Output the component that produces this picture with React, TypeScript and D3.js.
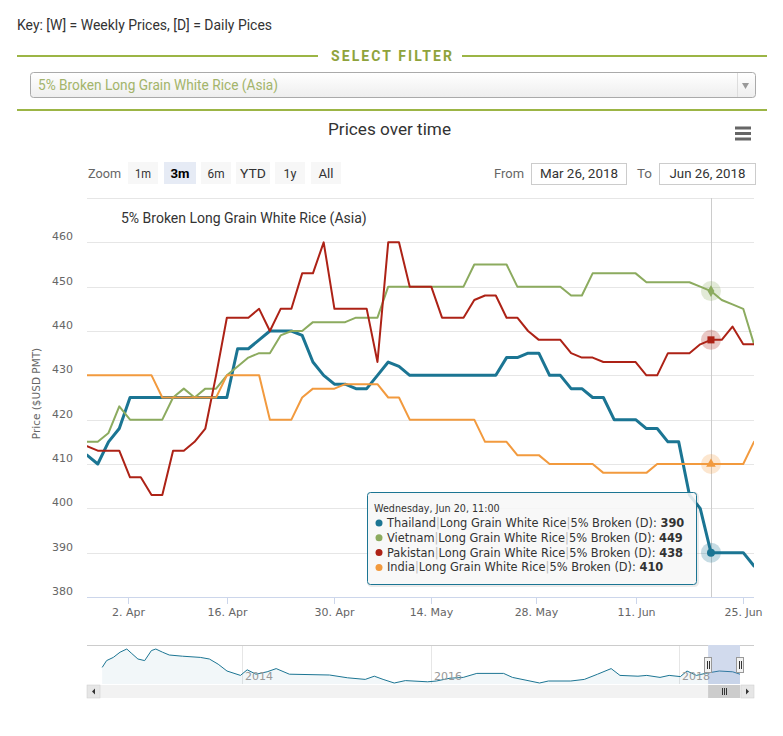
import React, { useEffect, useRef } from "react";
import * as d3 from "d3";

// trading days shown in the 3m window (ordinal axis, holidays skipped)
const dates = [
  "2018-03-26", "2018-03-27", "2018-03-28", "2018-03-29",
  "2018-04-03", "2018-04-04", "2018-04-05", "2018-04-06",
  "2018-04-09", "2018-04-10", "2018-04-11", "2018-04-12", "2018-04-13",
  "2018-04-16", "2018-04-17", "2018-04-18", "2018-04-19", "2018-04-20",
  "2018-04-23", "2018-04-24", "2018-04-25", "2018-04-26", "2018-04-27",
  "2018-04-30", "2018-05-02", "2018-05-03", "2018-05-04",
  "2018-05-07", "2018-05-08", "2018-05-09", "2018-05-10", "2018-05-11",
  "2018-05-14", "2018-05-15", "2018-05-16", "2018-05-17", "2018-05-18",
  "2018-05-21", "2018-05-22", "2018-05-23", "2018-05-24", "2018-05-25",
  "2018-05-29", "2018-05-30", "2018-05-31", "2018-06-01",
  "2018-06-04", "2018-06-05", "2018-06-06", "2018-06-07", "2018-06-08",
  "2018-06-11", "2018-06-12", "2018-06-13", "2018-06-14", "2018-06-15",
  "2018-06-18", "2018-06-19", "2018-06-20", "2018-06-21", "2018-06-22",
  "2018-06-25", "2018-06-26",
];

const thailand = [
  412, 410, 415, 418, 425, 425, 425, 425, 425, 425, 425, 425, 425, 425, 436, 436,
  438, 440, 440, 440, 439, 433, 430, 428, 428, 427, 427, 430, 433, 432, 430, 430,
  430, 430, 430, 430, 430, 430, 430, 434, 434, 435, 435, 430, 430, 427, 427, 425,
  425, 420, 420, 420, 418, 418, 415, 415, 403, 400, 390, 390, 390, 390, 387,
];
const vietnam = [
  415, 415, 417, 423, 420, 420, 420, 420, 425, 427, 425, 427, 427, 430, 432, 434,
  435, 435, 439, 440, 440, 442, 442, 442, 442, 443, 443, 443, 450, 450, 450, 450,
  450, 450, 450, 450, 455, 455, 455, 455, 450, 450, 450, 450, 450, 448, 448, 453,
  453, 453, 453, 453, 451, 451, 451, 451, 451, 450, 449, 447, 446, 445, 437,
];
const pakistan = [
  414, 413, 413, 413, 407, 407, 403, 403, 413, 413, 415, 418, 430, 443, 443, 443,
  445, 440, 445, 445, 453, 453, 460, 445, 445, 445, 445, 433, 460, 460, 450, 450,
  450, 443, 443, 443, 447, 448, 448, 443, 443, 440, 438, 438, 438, 435, 434, 434,
  433, 433, 433, 433, 430, 430, 435, 435, 435, 437, 438, 438, 441, 437, 437,
];
const india = [
  430, 430, 430, 430, 430, 430, 430, 425, 425, 425, 425, 425, 425, 430, 430, 430,
  430, 420, 420, 420, 425, 427, 427, 427, 428, 428, 428, 428, 425, 425, 420, 420,
  420, 420, 420, 420, 420, 415, 415, 415, 412, 412, 412, 410, 410, 410, 410, 410,
  408, 408, 408, 408, 408, 410, 410, 410, 410, 410, 410, 410, 410, 410, 415,
];

const xTickDates = ["2018-04-02", "2018-04-16", "2018-04-30", "2018-05-14", "2018-05-28", "2018-06-11", "2018-06-25"];
const xTickLabels = ["2. Apr", "16. Apr", "30. Apr", "14. May", "28. May", "11. Jun", "25. Jun"];
const yTicks = [380, 390, 400, 410, 420, 430, 440, 450, 460];
const yGrid = [390, 400, 410, 420, 430, 440, 450, 460, 470];

const hoverIndex = 58;
const hoverLabel = "Wednesday, Jun 20, 11:00";

// navigator (full history, Thailand)
const navDates = [
  "2012-07-10", "2012-07-27", "2012-08-22", "2012-09-17", "2012-10-13", "2012-10-30", "2012-11-25", "2012-12-21",
  "2013-01-16", "2013-02-02", "2013-02-28", "2013-03-26", "2013-05-16", "2013-07-24", "2013-08-28", "2013-10-01", "2013-11-04", "2013-12-26",
  "2014-01-21", "2014-02-24", "2014-04-08", "2014-05-13", "2014-07-03", "2014-12-05",
  "2015-02-13", "2015-04-22", "2015-05-27", "2015-06-30", "2015-08-12", "2015-09-24", "2015-12-19",
  "2016-01-17", "2016-02-26", "2016-04-05", "2016-05-15", "2016-08-02", "2016-08-28", "2016-10-07", "2016-11-16", "2016-12-12",
  "2017-02-16", "2017-03-28", "2017-05-06", "2017-06-15", "2017-07-11", "2017-09-02", "2017-09-28", "2017-11-06", "2017-12-03",
  "2018-01-05", "2018-01-24", "2018-02-20", "2018-03-18", "2018-04-27", "2018-06-05", "2018-06-26",
];
const navValues = [
  461, 512, 536, 575, 599, 569, 524, 512,
  587, 599, 575, 554, 545, 536, 524, 485, 434, 401,
  443, 410, 428, 452, 410, 404,
  383, 371, 395, 371, 344, 362, 353,
  359, 380, 386, 416, 416, 386, 365, 344, 359,
  359, 371, 410, 452, 401, 395, 401, 386, 401,
  392, 434, 401, 416, 434, 428, 410,
];
const navYears = ["2014", "2016", "2018"];

const zoomButtons = ["1m", "3m", "6m", "YTD", "1y", "All"];

const series = [
  { name: "Thailand", values: thailand, color: "#1b7593", width: 3, symbol: d3.symbolCircle, size: 50 },
  { name: "Vietnam", values: vietnam, color: "#8cab5f", width: 2, symbol: d3.symbolDiamond, size: 40 },
  { name: "Pakistan", values: pakistan, color: "#ad2216", width: 2, symbol: d3.symbolSquare, size: 50 },
  { name: "India", values: india, color: "#f29a3e", width: 2, symbol: d3.symbolTriangle, size: 40 },
];

const uiFont = "Roboto, 'Liberation Sans', sans-serif";
const chartFont = "'DejaVu Sans', Verdana, sans-serif";
const green = "#9cb545";

export default function App() {
  const ref = useRef<SVGSVGElement>(null);

  useEffect(() => {
    const svg = d3.select(ref.current);
    svg.selectAll("*").remove();

    const parse = d3.utcParse("%Y-%m-%d");
    const plot = { left: 87, right: 754, top: 198, bottom: 597 };

    // ---- page header ----
    svg.append("text")
      .attr("x", 17).attr("y", 30)
      .attr("textLength", 255).attr("lengthAdjust", "spacingAndGlyphs")
      .style("font-family", uiFont).style("font-size", "15px").attr("fill", "#333")
      .text("Key: [W] = Weekly Prices, [D] = Daily Pices");

    svg.append("line").attr("x1", 17).attr("x2", 318).attr("y1", 56).attr("y2", 56)
      .attr("stroke", green).attr("stroke-width", 2);
    svg.append("line").attr("x1", 462).attr("x2", 767).attr("y1", 56).attr("y2", 56)
      .attr("stroke", green).attr("stroke-width", 2);
    svg.append("text")
      .attr("x", 331).attr("y", 61)
      .attr("textLength", 121).attr("lengthAdjust", "spacing")
      .style("font-family", uiFont).style("font-size", "14px").style("font-weight", "bold")
      .attr("fill", "#8fa33c")
      .text("SELECT FILTER");

    const defs = svg.append("defs");
    const grad = defs.append("linearGradient").attr("id", "selgrad")
      .attr("x1", 0).attr("x2", 0).attr("y1", 0).attr("y2", 1);
    grad.append("stop").attr("offset", "0%").attr("stop-color", "#ffffff");
    grad.append("stop").attr("offset", "100%").attr("stop-color", "#eeeeee");

    svg.append("rect").attr("x", 30.5).attr("y", 72.5).attr("width", 725).attr("height", 25)
      .attr("rx", 3).attr("fill", "url(#selgrad)").attr("stroke", "#aaaaaa");
    svg.append("line").attr("x1", 737.5).attr("x2", 737.5).attr("y1", 73).attr("y2", 97)
      .attr("stroke", "#dddddd");
    svg.append("path")
      .attr("d", "M742,83 L749,83 L745.5,89 Z").attr("fill", "#999");
    svg.append("text")
      .attr("x", 38).attr("y", 90)
      .attr("textLength", 240).attr("lengthAdjust", "spacingAndGlyphs")
      .style("font-family", uiFont).style("font-size", "14px").attr("fill", "#a3b46a")
      .text("5% Broken Long Grain White Rice (Asia)");

    svg.append("line").attr("x1", 17).attr("x2", 767).attr("y1", 110).attr("y2", 110)
      .attr("stroke", green).attr("stroke-width", 2);

    // ---- chart title / toolbar ----
    svg.append("text")
      .attr("x", 328).attr("y", 135)
      .attr("textLength", 123).attr("lengthAdjust", "spacingAndGlyphs")
      .style("font-family", uiFont).style("font-size", "17px").attr("fill", "#333")
      .text("Prices over time");

    [128, 133.5, 139].forEach((yy) => {
      svg.append("rect").attr("x", 735).attr("y", yy - 1.5).attr("width", 16).attr("height", 3)
        .attr("fill", "#666");
    });

    svg.append("text").attr("x", 88).attr("y", 178)
      .attr("textLength", 33).attr("lengthAdjust", "spacingAndGlyphs")
      .style("font-family", uiFont).style("font-size", "13px").attr("fill", "#666")
      .text("Zoom");

    const btnCenters = [143, 180, 216, 253, 290, 326];
    const btnWidths = [30, 32, 30, 34, 30, 30];
    const btnTextW = [16, 19, 17, 26, 13, 15];
    zoomButtons.forEach((b, i) => {
      const sel = b === "3m";
      svg.append("rect")
        .attr("x", btnCenters[i] - btnWidths[i] / 2).attr("y", 162)
        .attr("width", btnWidths[i]).attr("height", 22)
        .attr("fill", sel ? "#e6ebf5" : "#f7f7f7");
      svg.append("text")
        .attr("x", btnCenters[i] - btnTextW[i] / 2).attr("y", 178)
        .attr("textLength", btnTextW[i]).attr("lengthAdjust", "spacingAndGlyphs")
        .style("font-family", uiFont).style("font-size", "13px")
        .style("font-weight", sel ? "bold" : "normal")
        .attr("fill", sel ? "#000" : "#333")
        .text(b);
    });

    const inputs = [
      { label: "From", lx: 494, lw: 30, bx: 531, bw: 95, value: "Mar 26, 2018", vw: 78 },
      { label: "To", lx: 637, lw: 15, bx: 659, bw: 96, value: "Jun 26, 2018", vw: 76 },
    ];
    inputs.forEach((inp) => {
      svg.append("text").attr("x", inp.lx).attr("y", 178)
        .attr("textLength", inp.lw).attr("lengthAdjust", "spacingAndGlyphs")
        .style("font-family", uiFont).style("font-size", "13px").attr("fill", "#666")
        .text(inp.label);
      svg.append("rect").attr("x", inp.bx + 0.5).attr("y", 163.5)
        .attr("width", inp.bw).attr("height", 21)
        .attr("fill", "#fff").attr("stroke", "#cccccc");
      svg.append("text").attr("x", inp.bx + inp.bw / 2 - inp.vw / 2 + 0.5).attr("y", 178)
        .attr("textLength", inp.vw).attr("lengthAdjust", "spacingAndGlyphs")
        .style("font-family", uiFont).style("font-size", "13px").attr("fill", "#333")
        .text(inp.value);
    });

    // ---- main plot ----
    const toIndex = d3.scaleUtc()
      .domain(dates.map((d) => parse(d) as Date))
      .range(dates.map((_, i) => i));
    const x = d3.scaleLinear().domain([0, dates.length - 1]).range([plot.left, plot.right]);
    const y = d3.scaleLinear().domain([380, 470]).range([plot.bottom, plot.top]);

    const grid = svg.append("g");
    yGrid.forEach((v) => {
      grid.append("line")
        .attr("x1", plot.left).attr("x2", plot.right)
        .attr("y1", Math.round(y(v)) + 0.5).attr("y2", Math.round(y(v)) + 0.5)
        .attr("stroke", "#e6e6e6");
    });

    yTicks.forEach((v) => {
      svg.append("text")
        .attr("x", 73).attr("y", y(v) - 2)
        .attr("text-anchor", "end")
        .style("font-family", chartFont).style("font-size", "11px").attr("fill", "#666")
        .text(v);
    });

    svg.append("text")
      .attr("transform", `translate(40,${(plot.top + plot.bottom) / 2 - 4}) rotate(-90)`)
      .attr("text-anchor", "middle")
      .style("font-family", chartFont).style("font-size", "10.5px").attr("fill", "#666")
      .text("Price ($USD PMT)");

    svg.append("text")
      .attr("x", 121).attr("y", 223)
      .style("font-family", "Roboto, sans-serif").style("font-size", "14px").attr("fill", "#333")
      .text("5% Broken Long Grain White Rice (Asia)");

    // x axis
    svg.append("line")
      .attr("x1", plot.left).attr("x2", plot.right)
      .attr("y1", plot.bottom + 0.5).attr("y2", plot.bottom + 0.5)
      .attr("stroke", "#ccd6eb");
    xTickDates.forEach((d, i) => {
      const px = Math.round(x(toIndex(parse(d) as Date))) + 0.5;
      svg.append("line")
        .attr("x1", px).attr("x2", px)
        .attr("y1", plot.bottom).attr("y2", plot.bottom + 7)
        .attr("stroke", "#ccd6eb");
      svg.append("text")
        .attr("x", px).attr("y", 616)
        .attr("text-anchor", "middle")
        .style("font-family", chartFont).style("font-size", "11px").attr("fill", "#666")
        .text(xTickLabels[i]);
    });

    // crosshair
    const hx = Math.round(x(hoverIndex)) + 0.5;
    svg.append("line")
      .attr("x1", hx).attr("x2", hx).attr("y1", plot.top).attr("y2", plot.bottom)
      .attr("stroke", "#cccccc");

    defs.append("clipPath").attr("id", "plotclip")
      .append("rect")
      .attr("x", plot.left).attr("y", plot.top - 5)
      .attr("width", plot.right - plot.left).attr("height", plot.bottom - plot.top + 5);

    const line = d3.line<number>()
      .x((_, i) => x(i))
      .y((v) => y(v));

    const lines = svg.append("g").attr("clip-path", "url(#plotclip)");
    series.forEach((s) => {
      lines.append("path")
        .datum(s.values)
        .attr("d", line)
        .attr("fill", "none")
        .attr("stroke", s.color)
        .attr("stroke-width", s.width)
        .attr("stroke-linejoin", "round")
        .attr("stroke-linecap", "round");
    });

    // hover markers
    series.forEach((s) => {
      const cx = x(hoverIndex);
      const cy = y(s.values[hoverIndex]);
      svg.append("circle").attr("cx", cx).attr("cy", cy).attr("r", 10)
        .attr("fill", s.color).attr("opacity", 0.25);
      svg.append("path")
        .attr("transform", `translate(${cx},${cy})`)
        .attr("d", d3.symbol().type(s.symbol).size(s.size)())
        .attr("fill", s.color);
    });

    // tooltip
    const tip = svg.append("g").attr("transform", "translate(367,492)");
    tip.append("rect").attr("x", 1.5).attr("y", 1.5).attr("width", 329).attr("height", 92)
      .attr("rx", 3).attr("fill", "none").attr("stroke", "rgba(0,0,0,0.08)").attr("stroke-width", 3);
    tip.append("rect").attr("x", 0.5).attr("y", 0.5).attr("width", 329).attr("height", 92)
      .attr("rx", 3).attr("fill", "rgba(247,247,247,0.88)").attr("stroke", series[0].color);
    tip.append("text").attr("x", 7).attr("y", 20)
      .style("font-family", chartFont).style("font-size", "9.6px").attr("fill", "#333")
      .text(hoverLabel);
    series.forEach((s, i) => {
      const ty = 35 + i * 14.8;
      tip.append("circle").attr("cx", 12).attr("cy", ty - 4).attr("r", 3.5).attr("fill", s.color);
      const t = tip.append("text").attr("x", 20).attr("y", ty)
        .style("font-family", chartFont).style("font-size", "11.4px").attr("fill", "#333");
      t.append("tspan").text(s.name);
      t.append("tspan").attr("fill", "#bbb").text("|");
      t.append("tspan").text("Long Grain White Rice");
      t.append("tspan").attr("fill", "#bbb").text("|");
      t.append("tspan").text("5% Broken (D): ");
      t.append("tspan").style("font-weight", "bold").text(s.values[hoverIndex]);
    });

    // ---- navigator ----
    const nav = { top: 645, bottom: 684 };
    const nx = d3.scaleUtc()
      .domain([parse("2014-01-01"), parse("2016-01-01"), parse("2018-01-01"), parse("2018-06-26")] as Date[])
      .range([242, 431, 679, 740]);
    const ny = d3.scaleLinear()
      .domain(d3.extent(navValues) as [number, number])
      .range([nav.bottom - 1, nav.top + 4]);
    const navPts = navDates.map((d, i) => [nx(parse(d) as Date), ny(navValues[i])] as [number, number]);

    navYears.forEach((yr) => {
      const gx = Math.round(nx(parse(`${yr}-01-01`) as Date)) + 0.5;
      svg.append("line").attr("x1", gx).attr("x2", gx).attr("y1", nav.top).attr("y2", nav.bottom)
        .attr("stroke", "#e6e6e6");
    });

    svg.append("path")
      .datum(navPts)
      .attr("d", d3.area<[number, number]>().x((p) => p[0]).y0(nav.bottom).y1((p) => p[1]))
      .attr("fill", "rgba(27,117,147,0.06)");
    svg.append("path")
      .datum(navPts)
      .attr("d", d3.line<[number, number]>().x((p) => p[0]).y((p) => p[1]))
      .attr("fill", "none").attr("stroke", series[0].color).attr("stroke-width", 1);

    navYears.forEach((yr) => {
      const gx = nx(parse(`${yr}-01-01`) as Date);
      svg.append("text").attr("x", gx + 3).attr("y", 680)
        .style("font-family", chartFont).style("font-size", "11px").attr("fill", "#999")
        .text(yr);
    });

    const m0 = nx(parse("2018-03-26") as Date);
    const m1 = nx(parse("2018-06-26") as Date);
    svg.append("rect").attr("x", m0).attr("y", nav.top).attr("width", m1 - m0).attr("height", nav.bottom - nav.top)
      .attr("fill", "rgba(102,133,194,0.3)");
    svg.append("path")
      .attr("d", `M${plot.left},${nav.top + 0.5}H${m0}M${m1},${nav.top + 0.5}H${plot.right}`)
      .attr("stroke", "#cccccc").attr("fill", "none");

    [m0, m1].forEach((hxv) => {
      const hx0 = Math.round(hxv);
      svg.append("rect").attr("x", hx0 - 3.5).attr("y", 657.5).attr("width", 7).attr("height", 15)
        .attr("fill", "#f2f2f2").attr("stroke", "#999");
      [-1, 1].forEach((o) => {
        svg.append("line").attr("x1", hx0 + o + 0.5).attr("x2", hx0 + o + 0.5)
          .attr("y1", 661).attr("y2", 669).attr("stroke", "#333");
      });
    });

    // scrollbar
    const sb = { top: 685, h: 13 };
    svg.append("rect").attr("x", plot.left).attr("y", sb.top).attr("width", plot.right - plot.left).attr("height", sb.h)
      .attr("fill", "#f2f2f2");
    svg.append("rect").attr("x", m0).attr("y", sb.top).attr("width", m1 - m0).attr("height", sb.h)
      .attr("fill", "#cccccc");
    [-2, 0, 2].forEach((o) => {
      const lx = Math.round((m0 + m1) / 2) + o + 0.5;
      svg.append("line").attr("x1", lx).attr("x2", lx).attr("y1", sb.top + 3).attr("y2", sb.top + 10)
        .attr("stroke", "#333");
    });
    svg.append("rect").attr("x", plot.left).attr("y", sb.top).attr("width", 13).attr("height", sb.h)
      .attr("fill", "#e6e6e6").attr("stroke", "#cccccc").attr("stroke-width", 0.5);
    svg.append("rect").attr("x", plot.right - 13).attr("y", sb.top).attr("width", 13).attr("height", sb.h)
      .attr("fill", "#e6e6e6").attr("stroke", "#cccccc").attr("stroke-width", 0.5);
    svg.append("path").attr("d", `M${plot.left + 8},${sb.top + 3.5} L${plot.left + 5},${sb.top + 6.5} L${plot.left + 8},${sb.top + 9.5} Z`)
      .attr("fill", "#333");
    svg.append("path").attr("d", `M${plot.right - 8},${sb.top + 3.5} L${plot.right - 5},${sb.top + 6.5} L${plot.right - 8},${sb.top + 9.5} Z`)
      .attr("fill", "#333");
  }, []);

  return (
    <svg
      ref={ref}
      width={783}
      height={736}
      viewBox="0 0 783 736"
      style={{ position: "absolute", left: 0, top: 0, background: "#fff" }}
    />
  );
}
